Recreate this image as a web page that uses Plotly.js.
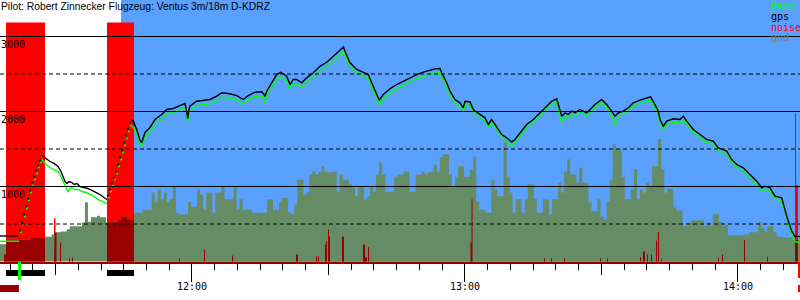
<!DOCTYPE html>
<html><head><meta charset="utf-8">
<script src="https://cdn.plot.ly/plotly-3.0.1.min.js"></script>
<style>html,body{margin:0;padding:0;background:#fff}#chart{width:800px;height:300px}</style>
</head><body><div id="chart"></div>
<script>
// ---------- DATA (time in minutes since midnight, altitude in m) ----------
const titleText = "Pilot: Robert Zinnecker Flugzeug: Ventus 3m/18m D-KDRZ";
const hourTicks = [720, 780, 840];
const hourLabels = ["12:00", "13:00", "14:00"];
const halfHourTicks = [690, 750, 810];
const altMajor = [1000, 2000, 3000];
const altMinor = [500, 1500, 2500];
const legendNames = ["baro", "gps", "noise", "gnd"];

const taskStart = 704.40;           // start of blue (flight) region
const takeoffMark = [681.76, 682.42];

// ground elevation, sampled every 40 s from 11:17:48
const GND_START = 677.8, GND_STEP = 2/3;
const gnd = [
230,230,280,280,280,280,280,290,290,290,310,310,310,320,320,330,330,360,390,390,
400,400,430,470,470,470,470,520,790,530,590,590,610,590,590,520,520,530,530,560,
600,600,560,560,650,650,650,690,690,690,920,790,960,830,920,790,830,1000,650,630,
630,630,790,730,730,960,890,690,920,920,650,920,920,1000,830,830,830,990,690,830,
690,690,690,650,650,650,650,650,830,830,690,690,790,850,850,650,630,760,1090,1090,
890,920,1160,1200,1160,1190,1270,1190,1190,1190,1200,930,1160,1090,1090,1030,990,870,1000,1000,
830,870,1000,930,1160,1320,1160,930,930,930,1130,1160,1160,1200,1200,930,930,1160,1160,1200,
1160,1190,1190,1290,1190,1390,1430,1430,1160,990,1130,1270,1270,1130,1130,1230,1400,800,690,690,
650,650,1090,960,870,870,1590,1130,920,650,830,830,650,830,1030,1030,830,650,650,830,
830,630,830,830,1050,920,1200,1360,1160,1160,1050,1250,1050,1050,790,670,670,830,600,560,
800,1090,1560,1490,1490,1130,830,830,960,1230,830,960,920,1050,1000,1270,1270,1630,1230,920,
970,970,720,680,680,470,470,520,550,550,550,550,470,520,470,630,630,530,470,490,
350,350,350,350,350,360,360,390,390,390,530,450,400,470,470,390,330,330,320,320,
320,320,290,290
];

// engine noise (percent of full scale) over time intervals
const noiseStart = [678.68,679.12,689.67,690.00,690.99,692.97,693.63,701.32,717.14,722.64,728.79,742.86,747.26,747.70,749.24,749.45,749.89,750.11,752.97,757.59,758.03,758.69,781.22,781.44,797.37,798.90,801.77,809.68,811.22,818.47,819.13,820.01,820.89,821.99,822.43,823.09,835.61,836.50,841.33,846.39,852.54,852.76];
const noiseEnd   = [679.12,687.69,690.00,690.22,691.21,693.19,693.85,707.25,717.36,722.86,729.01,743.30,747.48,747.92,749.45,749.67,750.11,750.33,753.41,758.03,758.47,758.91,781.44,781.66,797.59,799.13,801.99,809.90,811.44,818.69,819.57,820.23,821.11,822.21,822.65,823.31,835.83,836.72,841.55,846.61,852.76,853.20];
const noiseLevel = [3,100,18,12,8,1.3,1.7,100,1.4,5,2.5,2.9,2.2,2.2,7.1,8.4,13.4,10.5,10.5,7.1,1.8,6,8,26,1.4,1.4,1.4,1.4,1.4,1.8,4.2,2.9,2.9,8.8,12.3,1.3,1.7,2.9,8.9,2,62,32];
const NOISE_TOP_ALT = 3187;

// GPS altitude
const gpsAT = [677.8, 681.87];
const gpsAA = [340, 340];
const gpsDot1T = [682.20,682.64,683.08,683.51,683.95,684.39,684.83,685.27,685.71,686.15,686.59];
const gpsDot1A = [413,520,627,733,840,947,1053,1133,1213,1280,1347];
const gpsBT = [687.03,687.91,688.79,689.67,690.55,691.21,691.65,692.09,692.53,692.97,693.63,694.07,694.72,695.38,696.26,697.14,698.02,698.90,699.78,700.66,701.32];
const gpsBA = [1413,1373,1333,1307,1267,1200,1120,1067,1040,1067,1053,1027,1040,1000,987,973,947,920,893,853,827];
const gpsDot2T = [701.54,701.98,702.42,702.86,703.30,703.74,704.18,704.62,705.06,705.49,705.93,706.37];
const gpsDot2A = [880,960,1040,1120,1200,1293,1387,1480,1587,1680,1773,1853];
const gpsCT = [706.81,707.10,707.85,708.57,708.95,709.67,710.77,711.87,713.34,714.44,
715.89,717.36,718.46,718.79,719.06,719.34,719.56,721.03,722.49,723.96,
725.43,726.53,728.35,729.83,731.28,732.38,733.85,735.32,735.83,736.05,
736.42,737.52,738.62,739.50,740.22,740.82,741.54,742.27,743.01,744.11,
745.21,746.66,748.14,749.61,750.71,751.81,752.91,753.30,753.63,754.73,
756.20,757.65,758.75,759.50,760.60,761.17,762.05,763.52,764.99,766.45,
767.92,769.39,770.84,772.31,773.41,774.51,774.89,775.99,776.71,777.81,
778.91,779.63,780.01,781.11,781.83,782.58,783.30,784.40,785.13,785.87,
786.60,787.32,788.07,789.17,790.27,790.99,792.10,793.57,795.02,796.49,
797.96,799.06,800.16,800.73,801.26,801.99,802.71,803.46,804.19,805.28,
806.76,807.48,808.58,810.05,811.15,812.25,812.98,813.70,814.80,815.90,
817.00,818.47,819.94,820.82,821.77,822.49,822.87,823.60,824.34,825.79,
827.26,827.99,828.74,830.19,831.66,833.13,834.58,835.68,837.53,838.63,
839.73,841.18,842.65,844.12,845.22,845.95,847.05,848.15,849.62,850.72,
851.82,852.54,853.64];
const gpsCA = [1893,1871,1760,1613,1587,1720,1787,1893,1960,2027,
2040,2080,2107,2013,1907,2027,2073,2137,2147,2160,
2204,2249,2236,2213,2160,2213,2257,2263,2227,2200,
2271,2383,2493,2524,2493,2471,2360,2427,2427,2383,
2449,2516,2604,2657,2716,2783,2849,2860,2804,2649,
2560,2516,2493,2383,2227,2151,2227,2303,2360,2404,
2449,2493,2524,2551,2569,2573,2516,2383,2271,2160,
2116,2049,2137,2127,2027,1991,1960,1916,1827,1893,
1827,1760,1693,1649,1593,1627,1716,1827,1893,1983,
2071,2137,2169,2027,1937,1983,1960,2004,1983,2027,
1983,2027,2093,2160,2093,2004,1937,1983,2004,2049,
2116,2151,2183,2196,2093,2004,1893,1804,1871,1903,
1893,1937,1871,1760,1693,1627,1604,1516,1471,1360,
1293,1249,1160,1071,983,1004,983,871,849,604,
404,333,333];

// barometric altitude
const baroAT = [677.8, 681.98];
const baroAA = [270, 270];
const baroDot1T = [682.42,682.86,683.30,683.73,684.17,684.61,685.05,685.49,685.93,686.37,686.81];
const baroDot1A = [387,493,600,707,813,920,1013,1093,1173,1253,1320];
const baroBT = [687.03,687.91,688.79,689.67,690.55,691.21,691.65,692.09,692.75,693.19,693.63,694.29,694.94,695.82,696.70,697.58,698.46,699.34,700.22,701.32];
const baroBA = [1360,1293,1253,1227,1200,1133,1067,1013,933,973,987,960,960,933,920,893,867,827,800,773];
const baroDot2T = [701.76,702.20,702.64,703.08,703.52,703.96,704.40,704.84,705.28,705.71,706.15,706.59];
const baroDot2A = [853,933,1013,1093,1173,1267,1360,1453,1547,1640,1733,1813];
const baroCA = [1800,1790,1700,1560,1545,1660,1730,1830,1900,1970,
1985,2025,2050,1960,1860,1975,2015,2080,2090,2105,
2150,2190,2180,2160,2100,2160,2200,2210,2150,2115,
2215,2320,2430,2470,2440,2410,2290,2370,2370,2325,
2395,2460,2550,2600,2660,2725,2790,2805,2750,2595,
2510,2465,2440,2330,2170,2090,2170,2245,2305,2350,
2395,2440,2470,2500,2515,2520,2465,2330,2220,2110,
2070,2005,2095,2085,1990,1950,1920,1875,1790,1850,
1790,1720,1655,1610,1540,1585,1675,1790,1855,1945,
2035,2100,2130,1960,1855,1940,1915,1965,1940,1990,
1935,1985,2055,2120,2050,1950,1815,1930,1965,2010,
2075,2110,2145,2155,2050,1960,1840,1765,1830,1860,
1855,1890,1830,1720,1655,1590,1565,1475,1430,1320,
1255,1210,1120,1030,945,960,940,830,805,560,
350,265,250];

// ---------- CHART ----------
const X_RANGE = [677.8, 853.64];
const Y_RANGE = [-6.67, 3486.67];
const C = {blue:'#5aa0ff', red:'#ff0000', dark:'#990000', gnd:'#658c65', green:'#00ff00', black:'#000000', gndText:'#6b8a5f'};
const MONO = 'DejaVu Sans Mono, monospace';

function gIdx(t){ return Math.max(0, Math.min(gnd.length-1, Math.floor((t-GND_START)/GND_STEP + 1e-6))); }

// ground as a stepped filled area
const gndX = [], gndY = [];
gnd.forEach((v,i)=>{ gndX.push(GND_START+i*GND_STEP); gndY.push(v); });
gndX.push(GND_START+gnd.length*GND_STEP); gndY.push(gnd[gnd.length-1]);
const gndTrace = {type:'scatter', mode:'lines', x:gndX, y:gndY, line:{width:0, shape:'hv'}, fill:'tozeroy', fillcolor:C.gnd, hoverinfo:'skip'};

// noise: bright red where above ground, dark red where it overlaps ground
const redX = [], redY = [], darkX = [], darkY = [];
noiseStart.forEach((s,i)=>{
  const e = noiseEnd[i], lv = noiseLevel[i]/100*NOISE_TOP_ALT;
  redX.push(s,s,e,e,null); redY.push(0,lv,lv,0,null);
  const b = [s]; let k = gIdx(s)+1;
  while (GND_START+k*GND_STEP < e) { b.push(GND_START+k*GND_STEP); k++; }
  b.push(e);
  darkX.push(s); darkY.push(0);
  for (let j=0;j<b.length-1;j++){
    const h = Math.min(lv, gnd[gIdx(b[j])]);
    darkX.push(b[j], b[j+1]); darkY.push(h, h);
  }
  darkX.push(e, null); darkY.push(0, null);
});
const polyTrace = (x,y,c)=>({type:'scatter', mode:'lines', x, y, fill:'toself', fillcolor:c, line:{width:0}, connectgaps:false, hoverinfo:'skip'});

function join(){ const t=[],a=[]; for(let i=0;i<arguments.length;i+=2){ if(i>0){t.push(null);a.push(null);} t.push(...arguments[i]); a.push(...arguments[i+1]); } return [t,a]; }
const [gpsT, gpsA] = join(gpsAT,gpsAA,gpsBT,gpsBA,gpsCT,gpsCA);
const [baroT, baroA] = join(baroAT,baroAA,baroBT,baroBA,gpsCT,baroCA);

const lineTrace = (x,y,c)=>({type:'scatter', mode:'lines', x, y, line:{color:c, width:1.4}, connectgaps:false, hoverinfo:'skip'});
const dotTrace = (x,y,c)=>({type:'scatter', mode:'markers', x, y, marker:{color:c, size:2.2}, hoverinfo:'skip'});

const data = [
  polyTrace(redX, redY, C.red),
  gndTrace,
  polyTrace(darkX, darkY, C.dark),
  lineTrace(baroT, baroA, C.green),
  lineTrace(gpsT, gpsA, C.black),
  dotTrace(baroDot1T.concat(baroDot2T), baroDot1A.concat(baroDot2A), C.green),
  dotTrace(gpsDot1T.concat(gpsDot2T), gpsDot1A.concat(gpsDot2A), C.black),
  {type:'scatter', x:[], y:[], xaxis:'x2', yaxis:'y', hoverinfo:'skip'}
];

const PH = 262; // plot height in px
const py = p => -p/PH; // px below plot -> paper
const shapes = [];
shapes.push({type:'rect', xref:'x', yref:'paper', x0:taskStart, x1:X_RANGE[1], y0:0, y1:1, fillcolor:C.blue, line:{width:0}, layer:'below'});
altMajor.concat(altMinor).forEach(v=>{
  shapes.push({type:'line', xref:'paper', yref:'y', x0:0, x1:1, y0:v, y1:v, layer:'above',
    line:{color:'#000', width:1, dash: altMajor.includes(v) ? 'solid' : '4px,3px'}});
});
noiseStart.forEach((s,i)=>{ if(noiseLevel[i]>=90) shapes.push({type:'rect', xref:'x', yref:'paper', x0:s, x1:noiseEnd[i], y0:py(8), y1:py(14), fillcolor:'#000', line:{width:0}}); });
shapes.push({type:'rect', xref:'x', yref:'paper', x0:takeoffMark[0], x1:takeoffMark[1], y0:0, y1:py(18), fillcolor:C.green, line:{width:0}});
shapes.push({type:'rect', xref:'x', yref:'paper', x0:X_RANGE[0], x1:noiseStart[1]+ (takeoffMark[1]-noiseStart[1])*0.86, y0:py(23), y1:py(30), fillcolor:C.dark, line:{width:0}});
shapes.push({type:'rect', xref:'x', yref:'paper', x0:noiseEnd[noiseEnd.length-1], x1:X_RANGE[1], y0:0, y1:py(16), fillcolor:C.red, line:{width:0}});
shapes.push({type:'rect', xref:'x', yref:'paper', x0:noiseEnd[noiseEnd.length-1], x1:X_RANGE[1], y0:py(23), y1:py(30), fillcolor:C.red, line:{width:0}});

const annotations = [];
annotations.push({text:titleText, xref:'paper', yref:'paper', x:0, y:1, xanchor:'left', yanchor:'top', showarrow:false,
  font:{family:'Liberation Sans, Arial, sans-serif', size:10.3, color:'#000'}, borderpad:0});
altMajor.forEach(v=>annotations.push({text:String(v), xref:'paper', yref:'y', x:0, y:v, xanchor:'left', yanchor:'top', yshift:-1,
  showarrow:false, font:{family:MONO, size:10, color:'#000'}, borderpad:0}));
const legColors = [C.green, C.black, C.red, C.gndText];
legendNames.forEach((n,i)=>annotations.push({text:n, xref:'paper', yref:'paper', x:770/800, y:1-(0+i*10.4)/PH, xanchor:'left', yanchor:'top',
  showarrow:false, font:{family:MONO, size:10, color:legColors[i]}, borderpad:0}));

const layout = {
  width:800, height:300, margin:{l:0,r:0,t:0,b:38}, paper_bgcolor:'#fff', plot_bgcolor:'#fff',
  showlegend:false,
  xaxis:{type:'linear', range:X_RANGE, tickvals:hourTicks, ticktext:hourLabels, ticks:'outside', ticklen:18, tickwidth:1, tickcolor:'#000',
    ticklabelstandoff:-4,
    showgrid:false, zeroline:false, showline:true, linecolor:C.dark, linewidth:2,
    tickfont:{family:MONO, size:10, color:'#000'},
    minor:{dtick:5, tick0:0, ticks:'outside', ticklen:6, tickwidth:1, tickcolor:'#000', showgrid:false}},
  xaxis2:{type:'linear', overlaying:'x', anchor:'y', side:'bottom', range:X_RANGE, tickvals:halfHourTicks, ticks:'outside', ticklen:12,
    tickwidth:1, tickcolor:'#000', showticklabels:false, showgrid:false, zeroline:false, showline:false},
  yaxis:{range:Y_RANGE, showgrid:false, zeroline:false, showticklabels:false, ticks:'', showline:false},
  shapes, annotations
};
Plotly.newPlot('chart', data, layout, {staticPlot:true, displayModeBar:false});
</script></body></html>
